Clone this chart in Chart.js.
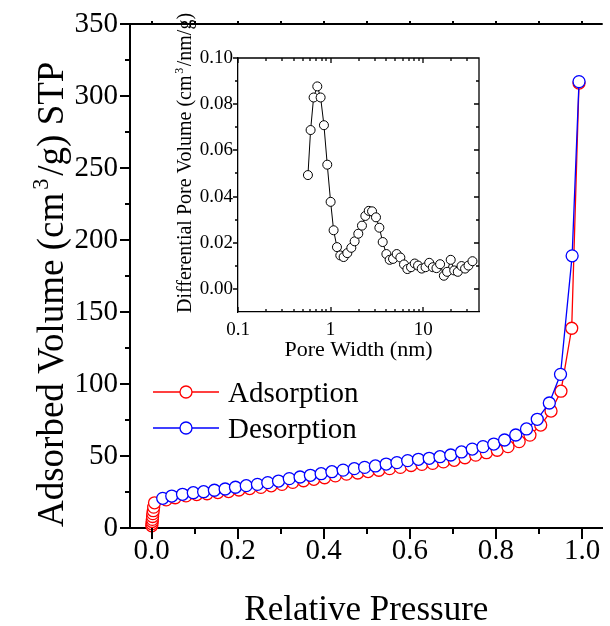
<!DOCTYPE html>
<html>
<head>
<meta charset="utf-8">
<script src="https://cdn.jsdelivr.net/npm/chart.js@4.4.0/dist/chart.umd.min.js"></script>
<style>
body { margin: 0; background: #fff; }
#wrap { position: relative; width: 610px; height: 626px; }
#main { position: absolute; left: 0; top: 0; }
#inset { position: absolute; left: 165px; top: 0; }
</style>
</head>
<body>
<div id="wrap">
<canvas id="main" width="610" height="626"></canvas>
<canvas id="inset" width="330" height="375"></canvas>
</div>
<script>
// main isotherm: relative pressure vs adsorbed volume
var xTicks = [0, 0.2, 0.4, 0.6, 0.8, 1.0];
var yTicks = [0, 50, 100, 150, 200, 250, 300, 350];

var adsP = [0.0005, 0.001, 0.0015, 0.002, 0.0025, 0.003, 0.004, 0.005, 0.007,
  0.034, 0.055, 0.080, 0.105, 0.129, 0.154, 0.179, 0.203, 0.228, 0.254,
  0.278, 0.303, 0.328, 0.353, 0.377, 0.402, 0.427, 0.453, 0.479, 0.503,
  0.528, 0.553, 0.578, 0.603, 0.628, 0.653, 0.678, 0.703, 0.728, 0.753,
  0.778, 0.803, 0.828, 0.854, 0.879, 0.904, 0.928, 0.951, 0.976, 0.993];
var adsV = [1.5, 3, 4.5, 6, 8, 10, 12, 14.5, 17.5,
  19.5, 21, 22.3, 23.2, 23.8, 24.6, 25.3, 26.4, 27.4, 28.2,
  29.3, 30.3, 31.7, 32.8, 33.8, 34.9, 36.2, 37.4, 38.2, 39.2,
  40.1, 41.2, 42.1, 43.4, 44.2, 44.9, 45.9, 47.0, 48.8, 50.6,
  52.3, 54.0, 56.5, 60.0, 64.5, 71.5, 81.2, 95.0, 138.7, 309];

var desP = [0.026, 0.047, 0.072, 0.097, 0.121, 0.146, 0.171, 0.195, 0.220, 0.246,
  0.270, 0.295, 0.320, 0.345, 0.369, 0.394, 0.419, 0.445, 0.471, 0.495,
  0.520, 0.545, 0.570, 0.595, 0.620, 0.645, 0.670, 0.695, 0.720, 0.745,
  0.770, 0.795, 0.820, 0.846, 0.871, 0.896, 0.924, 0.950, 0.977, 0.993];
var desV = [20.6, 22.2, 23.4, 24.5, 25.2, 26.2, 27.1, 28.3, 29.4, 30.3,
  31.5, 32.6, 34.3, 35.4, 36.6, 37.7, 39.1, 40.2, 41.2, 42.1,
  43.1, 44.4, 45.4, 46.8, 47.7, 48.4, 49.5, 50.7, 52.8, 54.8,
  56.5, 58.3, 61.1, 64.6, 68.8, 75.5, 86.8, 106.7, 189, 310];

// inset: pore size distribution
var insetXTicks = [0.1, 1, 10];
var insetYTicks = [0, 0.02, 0.04, 0.06, 0.08, 0.10];
var poreWidth = [0.569, 0.608, 0.655, 0.718, 0.780, 0.847, 0.920, 1.0, 1.077, 1.171,
  1.272, 1.382, 1.514, 1.673, 1.817, 1.99, 2.18, 2.37, 2.58, 2.80,
  3.09, 3.36, 3.65, 4.00, 4.34, 4.72, 5.17, 5.66, 6.20, 6.74,
  7.38, 8.09, 8.79, 9.63, 10.6, 11.6, 12.7, 13.9, 15.2, 16.7,
  18.1, 19.8, 21.6, 23.6, 25.9, 28.3, 30.8, 34.0];
var poreVol = [0.0493, 0.0688, 0.0829, 0.0877, 0.0829, 0.0709, 0.0538, 0.0377, 0.0254, 0.0181,
  0.0145, 0.0138, 0.0155, 0.0178, 0.0206, 0.0239, 0.0274, 0.0316, 0.0338, 0.0336,
  0.0310, 0.0265, 0.0203, 0.0151, 0.0126, 0.0130, 0.0151, 0.0136, 0.0106, 0.0086,
  0.0094, 0.0110, 0.0101, 0.0088, 0.0094, 0.0113, 0.0094, 0.0090, 0.0107, 0.0057,
  0.0074, 0.0126, 0.0080, 0.0074, 0.0099, 0.0088, 0.0101, 0.0120];

function pairs(xs, ys) {
  return xs.map(function(x, i) { return {x: x, y: ys[i]}; });
}

Chart.defaults.font.family = '"Liberation Serif", "Times New Roman", serif';
Chart.defaults.color = '#000';

function drawRich(c, x, y, parts, size, rotate) {
  c.save();
  c.translate(x, y);
  if (rotate) c.rotate(-Math.PI / 2);
  c.textAlign = 'left';
  c.textBaseline = 'alphabetic';
  c.fillStyle = '#000';
  var pos = 0;
  parts.forEach(function(p) {
    var s = p.sup ? size * 0.6 : size;
    c.font = s + 'px "Liberation Serif"';
    if (p.sup) pos += size * 0.08;
    c.fillText(p.t, pos, p.sup ? -size * 0.4 : 0);
    pos += c.measureText(p.t).width;
    if (p.sup) pos += size * 0.08;
  });
  c.restore();
}

function noPad(s) {
  s.paddingTop = 0; s.paddingBottom = 0; s.paddingLeft = 0; s.paddingRight = 0;
}

var mainFrame = {
  id: 'mainFrame',
  afterDraw: function(chart) {
    var c = chart.ctx, a = chart.chartArea, xs = chart.scales.x, ys = chart.scales.y;
    c.save();
    c.strokeStyle = '#000';
    c.lineWidth = 2;
    c.beginPath();
    c.moveTo(a.left, a.top); c.lineTo(a.right, a.top);
    for (var v = 0; v <= 350; v += 25) {
      var py = Math.round(ys.getPixelForValue(v));
      c.moveTo(a.left, py); c.lineTo(a.left - (v % 50 === 0 ? 10 : 5), py);
    }
    for (var i = 0; i <= 10; i++) {
      var px = Math.round(xs.getPixelForValue(i / 10));
      c.moveTo(px, a.bottom); c.lineTo(px, a.bottom + (i % 2 ? 6 : 11));
      c.moveTo(px, a.top); c.lineTo(px, a.top - 3);
    }
    c.stroke();

    // axis titles
    c.fillStyle = '#000';
    c.font = '35px "Liberation Serif"';
    c.textAlign = 'center';
    c.textBaseline = 'alphabetic';
    c.fillText('Relative Pressure', (a.left + a.right) / 2, 620);
    drawRich(c, 63, 527, [{t: 'Adsorbed Volume (cm'}, {t: '3', sup: true}, {t: '/g) STP'}], 37, true);

    // legend
    var rows = [392, 428];
    chart.data.datasets.forEach(function(ds, k) {
      var ly = rows[k];
      c.strokeStyle = ds.borderColor;
      c.lineWidth = 1.3;
      c.beginPath(); c.moveTo(153, ly); c.lineTo(219, ly); c.stroke();
      c.beginPath(); c.arc(186, ly, 6, 0, Math.PI * 2);
      c.fillStyle = '#fff'; c.fill(); c.stroke();
      c.fillStyle = '#000';
      c.font = '29px "Liberation Serif"';
      c.textAlign = 'left';
      c.fillText(ds.label, 228, ly + 10);
    });
    c.restore();
  }
};

new Chart(document.getElementById('main'), {
  type: 'scatter',
  data: {
    datasets: [{
      label: 'Adsorption',
      data: pairs(adsP, adsV),
      showLine: true,
      borderColor: '#ff0000',
      borderWidth: 1.3,
      pointRadius: 6,
      pointBorderWidth: 1.3,
      pointBorderColor: '#ff0000',
      pointBackgroundColor: '#ffffff',
      clip: false,
      order: 1
    }, {
      label: 'Desorption',
      data: pairs(desP, desV),
      showLine: true,
      borderColor: '#0000ff',
      borderWidth: 1.3,
      pointRadius: 6,
      pointBorderWidth: 1.3,
      pointBorderColor: '#0000ff',
      pointBackgroundColor: '#ffffff',
      clip: false,
      order: 0
    }]
  },
  options: {
    responsive: false,
    animation: false,
    events: [],
    layout: { padding: { top: 24, right: 0, left: 0, bottom: 0 } },
    plugins: { legend: { display: false }, tooltip: { enabled: false } },
    scales: {
      x: {
        type: 'linear',
        min: -0.05,
        max: 1.048,
        afterBuildTicks: function(s) { s.ticks = xTicks.map(function(v) { return {value: v}; }); },
        afterFit: function(s) { s.height = 98; noPad(s); },
        grid: { drawOnChartArea: false, drawTicks: false },
        border: { display: true, color: '#000', width: 2 },
        ticks: {
          font: { size: 29 },
          padding: 6,
          maxRotation: 0,
          autoSkip: false,
          callback: function(v) { return Number(v).toFixed(1); }
        }
      },
      y: {
        type: 'linear',
        min: 0,
        max: 350,
        afterBuildTicks: function(s) { s.ticks = yTicks.map(function(v) { return {value: v}; }); },
        afterFit: function(s) { s.width = 130; noPad(s); },
        grid: { drawOnChartArea: false, drawTicks: false },
        border: { display: true, color: '#000', width: 2 },
        ticks: {
          font: { size: 29 },
          padding: 12,
          autoSkip: false,
          callback: function(v) { return String(v); }
        }
      }
    }
  },
  plugins: [mainFrame]
});

var insetFrame = {
  id: 'insetFrame',
  afterDraw: function(chart) {
    var c = chart.ctx, a = chart.chartArea, xs = chart.scales.x, ys = chart.scales.y;
    c.save();
    c.strokeStyle = '#000';
    c.lineWidth = 1.3;
    c.beginPath();
    c.moveTo(a.left, a.top); c.lineTo(a.right, a.top); c.lineTo(a.right, a.bottom);
    for (var k = 0; k <= 10; k++) {
      var py = Math.round(ys.getPixelForValue(k / 100));
      var len = k % 2 === 0 ? 5 : 3;
      c.moveTo(a.left, py); c.lineTo(a.left - len, py);
      c.moveTo(a.right, py); c.lineTo(a.right - len, py);
    }
    insetXTicks.forEach(function(d) {
      for (var m = 1; m <= 9; m++) {
        var v = d * m;
        if (v > 40) break;
        var px = Math.round(xs.getPixelForValue(v));
        var l = m === 1 ? 5 : 3;
        c.moveTo(px, a.bottom); c.lineTo(px, a.bottom - l);
        c.moveTo(px, a.top); c.lineTo(px, a.top + l);
      }
    });
    c.stroke();

    c.fillStyle = '#000';
    c.font = '22px "Liberation Serif"';
    c.textAlign = 'center';
    c.textBaseline = 'alphabetic';
    c.fillText('Pore Width (nm)', (a.left + a.right) / 2, 356);
    drawRich(c, 26, 313, [{t: 'Differential Pore Volume (cm'}, {t: '3', sup: true}, {t: '/nm/g)'}], 20, true);
    c.restore();
  }
};

new Chart(document.getElementById('inset'), {
  type: 'scatter',
  data: {
    datasets: [{
      label: 'PSD',
      data: pairs(poreWidth, poreVol),
      showLine: true,
      borderColor: '#000',
      borderWidth: 1,
      pointRadius: 4.5,
      pointBorderWidth: 1,
      pointBorderColor: '#000',
      pointBackgroundColor: '#fff',
      clip: false
    }]
  },
  options: {
    responsive: false,
    animation: false,
    events: [],
    layout: { padding: { top: 58, right: 16, left: 0, bottom: 0 } },
    plugins: { legend: { display: false }, tooltip: { enabled: false } },
    scales: {
      x: {
        type: 'logarithmic',
        min: 0.1,
        max: 40,
        afterBuildTicks: function(s) { s.ticks = insetXTicks.map(function(v) { return {value: v}; }); },
        afterFit: function(s) { s.height = 63; noPad(s); },
        grid: { drawOnChartArea: false, drawTicks: false },
        border: { display: true, color: '#000', width: 1.3 },
        ticks: {
          font: { size: 19 },
          padding: 7,
          maxRotation: 0,
          autoSkip: false,
          callback: function(v) { return String(v); }
        }
      },
      y: {
        type: 'linear',
        min: -0.01,
        max: 0.10,
        afterBuildTicks: function(s) { s.ticks = insetYTicks.map(function(v) { return {value: v}; }); },
        afterFit: function(s) { s.width = 73; noPad(s); },
        grid: { drawOnChartArea: false, drawTicks: false },
        border: { display: true, color: '#000', width: 1.3 },
        ticks: {
          font: { size: 19 },
          padding: 5,
          autoSkip: false,
          callback: function(v) { return Number(v).toFixed(2); }
        }
      }
    }
  },
  plugins: [insetFrame]
});
</script>
</body>
</html>
